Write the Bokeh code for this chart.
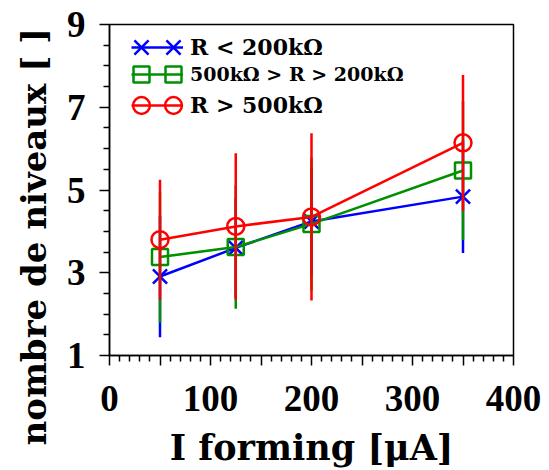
from bokeh.plotting import figure
from bokeh.models import Range1d, FixedTicker, Legend, LegendItem, Title, ColumnDataSource
from bokeh.embed import file_html
from bokeh.resources import INLINE

# ---------------- data ----------------
x_forming = [50, 125, 200, 350]

labels = ["R < 200kΩ", "500kΩ > R > 200kΩ", "R > 500kΩ"]

blue_y = [2.91, 3.60, 4.24, 4.84]
blue_err = [1.47, 1.20, 1.30, 1.36]

green_y = [3.38, 3.62, 4.18, 5.47]
green_err = [1.58, 1.49, 1.60, 1.68]

red_y = [3.80, 4.12, 4.35, 6.14]
red_err = [1.45, 1.77, 2.02, 1.64]

x_ticks = [0, 50, 100, 150, 200, 250, 300, 350, 400]
x_tick_labels = ["0", "", "100", "", "200", "", "300", "", "400"]
y_ticks = [1, 3, 5, 7, 9]

x_title = "I forming [μA]"
y_title = "nombre de niveaux [ ]"

# ---------------- figure ----------------
FONT = "DejaVu Serif"
TICK_FONT = "Liberation Serif"

p = figure(width=549, height=470, x_range=Range1d(0, 400), y_range=Range1d(1, 9),
           output_backend="svg", toolbar_location=None,
           min_border_left=109, min_border_right=36, min_border_top=24, min_border_bottom=115)
p.xgrid.visible = False
p.ygrid.visible = False
p.outline_line_color = "black"
p.outline_line_width = 1.5
p.background_fill_color = "white"
p.border_fill_color = "white"

# x axis
p.xaxis.ticker = FixedTicker(ticks=x_ticks, minor_ticks=[v for v in range(0, 401, 10) if v % 50 != 0])
p.xaxis.major_label_overrides = {t: l for t, l in zip(x_ticks, x_tick_labels)}
# y axis
y_minor = [1 + 0.5 * i for i in range(17)]
p.yaxis.ticker = FixedTicker(ticks=y_ticks, minor_ticks=[v for v in y_minor if v not in y_ticks])

for ax in (p.xaxis[0], p.yaxis[0]):
    ax.axis_line_color = "black"
    ax.axis_line_width = 1.5
    ax.major_tick_line_color = "black"
    ax.minor_tick_line_color = "black"
    ax.major_tick_line_width = 1.5
    ax.minor_tick_line_width = 1.5
    ax.major_tick_in = 0
    ax.major_tick_out = 10
    ax.minor_tick_in = 0
    ax.minor_tick_out = 6
    ax.major_label_text_font = TICK_FONT
    ax.major_label_text_font_style = "bold"
    ax.major_label_text_font_size = "37px"
    ax.major_label_text_color = "black"

p.xaxis.major_label_standoff = 20
p.yaxis.major_label_standoff = 14

p.xaxis.axis_label = x_title
p.xaxis.axis_label_text_font = FONT
p.xaxis.axis_label_text_font_style = "bold"
p.xaxis.axis_label_text_font_size = "35px"
p.xaxis.axis_label_text_color = "black"
p.xaxis.axis_label_standoff = 13

ylab = Title(text=y_title, align="left", offset=-90, vertical_align="top",
             text_font=FONT, text_font_style="bold", text_font_size="34px",
             text_color="black", standoff=16)
p.add_layout(ylab, "left")

# ---------------- series ----------------
series = [
    (labels[0], blue_y, blue_err, "#0000ff", "x", 20, "22px"),
    (labels[1], green_y, green_err, "#009000", "square", 16, "19px"),
    (labels[2], red_y, red_err, "#ff0000", "circle", 17, "22px"),
]

ROW_CY = [23, 50, 81]     # legend row centres, px below frame top
FRAME_H = 331
LINE_X0 = 22              # legend line start, px right of frame left
LINE_W = 52
MARK_CX = [32, 64]        # legend marker centres, px right of frame left
LAB_H = 30

for (lab, ys, errs, col, mk, sz, fsz), cy in zip(series, ROW_CY):
    src = ColumnDataSource(dict(
        x=x_forming, y=ys,
        lo=[v - e for v, e in zip(ys, errs)],
        hi=[v + e for v, e in zip(ys, errs)]))
    p.segment(x0="x", y0="lo", x1="x", y1="hi", source=src, line_color=col, line_width=2.5)
    ln = p.line("x", "y", source=src, line_color=col, line_width=2.5)
    sc = p.scatter("x", "y", source=src, marker=mk, size=sz, line_color=col,
                   line_width=2.5, fill_alpha=0)

    # legend: line + label
    leg = Legend(items=[LegendItem(label=lab, renderers=[ln])],
                 location=(LINE_X0, FRAME_H - (cy + LAB_H // 2)),
                 glyph_width=LINE_W, glyph_height=LAB_H, label_height=LAB_H,
                 label_standoff=7, padding=0, margin=0, spacing=0,
                 label_text_font=FONT, label_text_font_style="bold",
                 label_text_font_size=fsz, label_text_color="black",
                 background_fill_alpha=0, border_line_alpha=0)
    p.add_layout(leg)
    # legend: markers at both ends of the line
    w = int(round(sz / 0.4))
    for mcx in MARK_CX:
        mleg = Legend(items=[LegendItem(label=" ", renderers=[sc])],
                      location=(mcx - w // 2, FRAME_H - (cy + w // 2)),
                      glyph_width=w, glyph_height=w, label_height=4,
                      label_standoff=0, padding=0, margin=0, spacing=0,
                      label_text_font_size="4px",
                      background_fill_alpha=0, border_line_alpha=0)
        p.add_layout(mleg)

open("out.html", "w").write(file_html(p, INLINE))
